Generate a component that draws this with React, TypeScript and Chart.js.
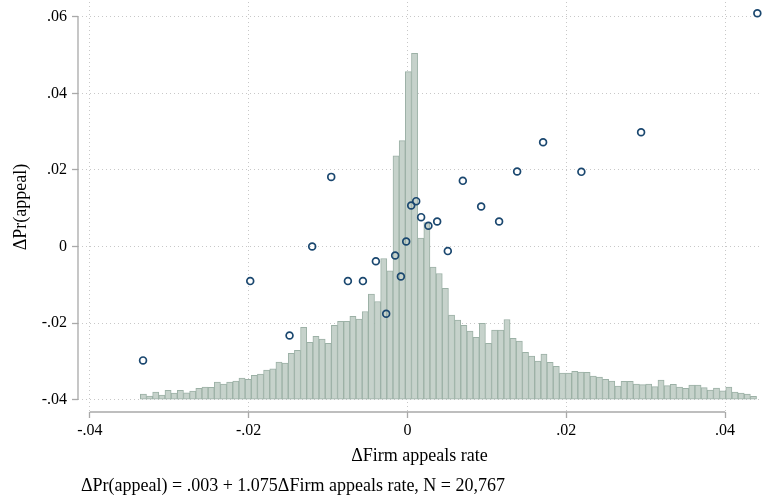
import React, { useEffect, useRef } from 'react';
import { Chart, registerables } from 'chart.js';

Chart.register(...registerables);

// binned scatter: ΔFirm appeals rate (x) vs ΔPr(appeal) (y)
const scatterX = [
  -0.0333, -0.0198, -0.01485, -0.012, -0.0096, -0.0075, -0.00561, -0.00398, -0.00268,
  -0.00155, -0.00083, -0.00016, 0.00047, 0.0011, 0.00172, 0.00264, 0.00374, 0.00508,
  0.00697, 0.00928, 0.01154, 0.01381, 0.01708, 0.0219, 0.02942, 0.04406,
];
const scatterY = [
  -0.02974, -0.00903, -0.02322, 0.0, 0.01818, -0.00903, -0.00903, -0.00386, -0.01756,
  -0.00235, -0.00783, 0.0013, 0.0107, 0.01184, 0.00767, 0.0054, 0.00652, -0.0012,
  0.01714, 0.01044, 0.00652, 0.01957, 0.02724, 0.01949, 0.02985, 0.06089,
];

// histogram of ΔFirm appeals rate: 100 bins, bar tops in y-axis units (bars stand on -.04)
const histStart = -0.03364;
const histBinWidth = 0.000776;
const histBase = -0.04;
const histTops = [
  -0.03851, -0.03903, -0.03804, -0.03877, -0.03752, -0.0383, -0.03752, -0.03822, -0.03773, -0.037,
  -0.03668, -0.03679, -0.03538, -0.0359, -0.03538, -0.03512, -0.03433, -0.03465, -0.03366, -0.03329,
  -0.03225, -0.03196, -0.03016, -0.03042, -0.02792, -0.02708, -0.02108, -0.02499, -0.02348, -0.02416,
  -0.02531, -0.02061, -0.01951, -0.01951, -0.01821, -0.01894, -0.01696, -0.01242, -0.01435, -0.00313,
  -0.00634, 0.02366, 0.02765, 0.04566, 0.05046, 0.00219, 0.00626, -0.00537, -0.00704, -0.01091,
  -0.0179, -0.0192, -0.02061, -0.02207, -0.02374, -0.02009, -0.02531, -0.02181, -0.02181, -0.01905,
  -0.024, -0.02468, -0.02765, -0.02859, -0.0299, -0.02807, -0.03026, -0.03131, -0.03303, -0.03303,
  -0.03261, -0.03277, -0.03287, -0.03381, -0.03407, -0.0347, -0.03512, -0.03642, -0.03522, -0.03522,
  -0.0359, -0.03608, -0.0359, -0.0366, -0.03486, -0.03634, -0.036, -0.03668, -0.03705, -0.03616,
  -0.03616, -0.03686, -0.03746, -0.03694, -0.03765, -0.03668, -0.03799, -0.03825, -0.03851, -0.03913,
];

const xTickValues = [-0.04, -0.02, 0, 0.02, 0.04];
const xTickLabels = ['-.04', '-.02', '0', '.02', '.04'];
const yTickValues = [-0.04, -0.02, 0, 0.02, 0.04, 0.06];
const yTickLabels = ['-.04', '-.02', '0', '.02', '.04', '.06'];

const xTitle = 'ΔFirm appeals rate';
const yTitle = 'ΔPr(appeal)';
const note = 'ΔPr(appeal) = .003 + 1.075ΔFirm appeals rate, N = 20,767';

const FONT = '"Liberation Serif", "Times New Roman", serif';
const AXIS = '#a9a9a9';
const GRID = '#c8c8c8';
const MARKER = '#1a476f';

// Stata-like axis lines (only between first and last tick) plus the note under the graph
const stataAxes = {
  id: 'stataAxes',
  afterDraw(chart: any) {
    const { ctx, chartArea, scales } = chart;
    const x = scales.x;
    const y = scales.y;
    ctx.save();
    ctx.strokeStyle = AXIS;
    ctx.lineWidth = 1.3;
    ctx.beginPath();
    ctx.moveTo(chartArea.left, y.getPixelForValue(yTickValues[0]));
    ctx.lineTo(chartArea.left, y.getPixelForValue(yTickValues[yTickValues.length - 1]));
    ctx.moveTo(x.getPixelForValue(xTickValues[0]), chartArea.bottom);
    ctx.lineTo(x.getPixelForValue(xTickValues[xTickValues.length - 1]), chartArea.bottom);
    ctx.stroke();
    ctx.fillStyle = '#000';
    ctx.font = `18px ${FONT}`;
    ctx.textBaseline = 'middle';
    ctx.textAlign = 'left';
    ctx.fillText(note, chartArea.left + 3, chart.height - 16);
    ctx.restore();
  },
};

export default function App() {
  const canvasRef = useRef<HTMLCanvasElement>(null);

  useEffect(() => {
    if (!canvasRef.current) return;

    const bars = histTops.map((top, i) => ({ x: histStart + (i + 0.5) * histBinWidth, y: top }));
    const points = scatterX.map((x, i) => ({ x, y: scatterY[i] }));

    const chart = new Chart(canvasRef.current, {
      type: 'scatter',
      data: {
        datasets: [
          {
            type: 'bar',
            data: bars,
            base: histBase,
            backgroundColor: '#c6d2cb',
            borderColor: '#9cb1a6',
            borderWidth: 1,
            borderSkipped: false,
            barPercentage: 1,
            categoryPercentage: 1,
            order: 2,
          } as any,
          {
            type: 'scatter',
            data: points,
            pointRadius: 3.4,
            pointBorderWidth: 1.7,
            borderColor: MARKER,
            backgroundColor: 'rgba(0,0,0,0)',
            clip: false,
            order: 1,
          } as any,
        ],
      },
      options: {
        animation: false,
        responsive: true,
        maintainAspectRatio: false,
        layout: { autoPadding: false, padding: { left: 0, right: 1, top: 2, bottom: 35 } },
        plugins: {
          legend: { display: false },
          tooltip: { enabled: false },
        },
        scales: {
          x: {
            type: 'linear',
            min: -0.04149,
            max: 0.04452,
            offset: false,
            afterBuildTicks: (s: any) => {
              s.ticks = xTickValues.map(v => ({ value: v }));
            },
            afterFit: (s: any) => {
              s.height = 55;
              s.paddingLeft = 0;
              s.paddingRight = 0;
            },
            grid: {
              color: GRID,
              lineWidth: 1,
              offset: false,
              drawTicks: true,
              tickLength: 6,
              tickColor: AXIS,
              tickWidth: 1.3,
            },
            border: { display: false, dash: [1, 3] },
            ticks: {
              autoSkip: false,
              maxRotation: 0,
              padding: 3,
              color: '#000',
              font: { family: FONT, size: 16 },
              callback: (_v: any, i: number) => xTickLabels[i],
            },
            title: {
              display: true,
              text: xTitle,
              color: '#000',
              font: { family: FONT, size: 18 },
              padding: { top: 0, bottom: 0 },
            },
          },
          y: {
            type: 'linear',
            min: -0.04321,
            max: 0.06384,
            afterBuildTicks: (s: any) => {
              s.ticks = yTickValues.map(v => ({ value: v }));
            },
            afterFit: (s: any) => {
              s.width = 78;
              s.paddingTop = 0;
              s.paddingBottom = 0;
            },
            grid: {
              color: GRID,
              lineWidth: 1,
              drawTicks: true,
              tickLength: 6,
              tickColor: AXIS,
              tickWidth: 1.3,
            },
            border: { display: false, dash: [1, 3] },
            ticks: {
              autoSkip: false,
              padding: 5,
              color: '#000',
              font: { family: FONT, size: 16 },
              callback: (_v: any, i: number) => yTickLabels[i],
            },
            title: {
              display: true,
              text: yTitle,
              color: '#000',
              font: { family: FONT, size: 18 },
              padding: { top: 10, bottom: 0 },
            },
          },
        },
      },
      plugins: [stataAxes],
    });

    return () => {
      chart.destroy();
    };
  }, []);

  return (
    <div style={{ position: 'fixed', left: 0, top: 0, width: 762, height: 502, background: '#fff' }}>
      <canvas ref={canvasRef}></canvas>
    </div>
  );
}
